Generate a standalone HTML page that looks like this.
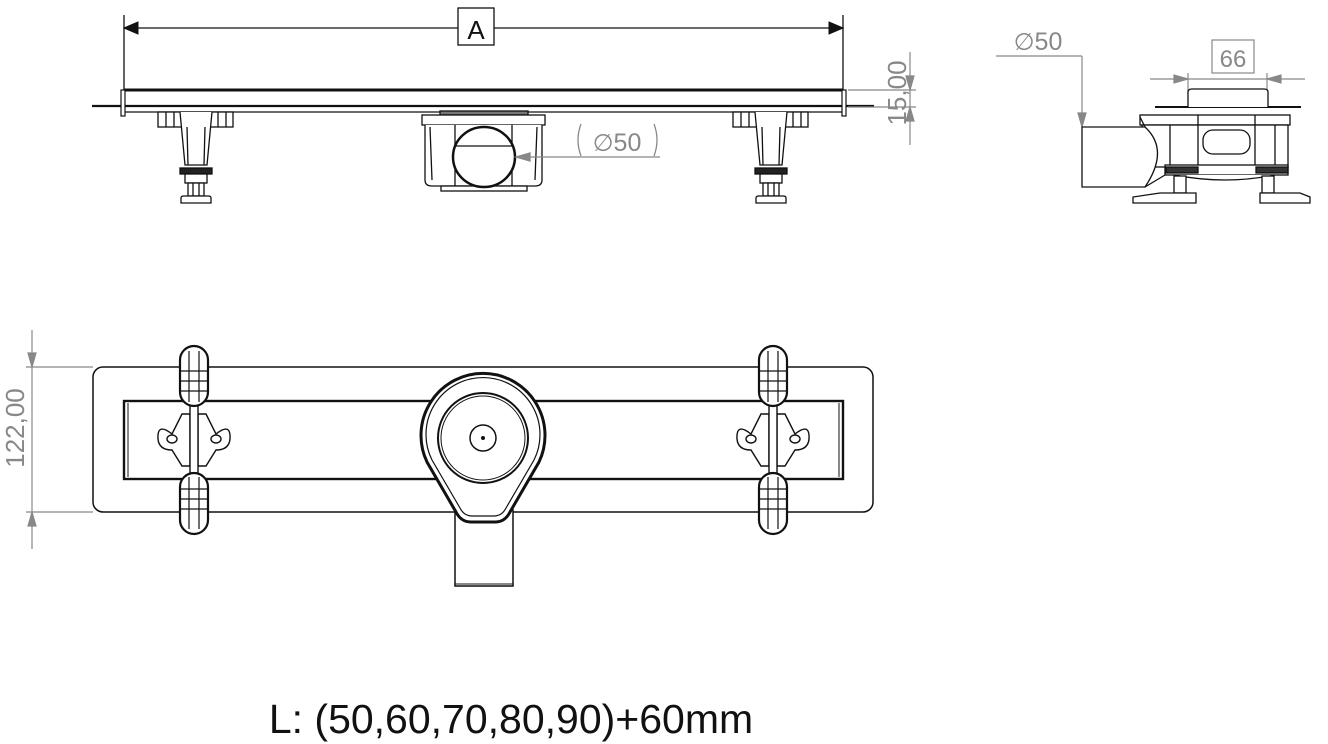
<!DOCTYPE html>
<html><head><meta charset="utf-8"><style>
html,body{margin:0;padding:0;background:#fff}
svg{display:block}
text{font-family:"Liberation Sans",sans-serif}
</style></head><body>
<svg width="1328" height="744" viewBox="0 0 1328 744" xmlns="http://www.w3.org/2000/svg">
<defs>
<g id="leg" fill="#fff" stroke="#111" stroke-width="1.3">
  <rect x="-38" y="112" width="75" height="15"/>
  <line x1="-30" y1="112" x2="-30" y2="127"/><line x1="-22" y1="112" x2="-22" y2="127"/>
  <line x1="22" y1="112" x2="22" y2="127"/><line x1="30" y1="112" x2="30" y2="127"/>
  <rect x="-14" y="115" width="28" height="12"/>
  <line x1="0" y1="117" x2="0" y2="127"/>
  <path d="M-16 112 L-11 165 L11 165 L16 112"/>
  <path d="M-9 127 L-8 165 M9 127 L8 165"/>
  <rect x="-16" y="168" width="32" height="6" fill="#222"/>
  <rect x="-11" y="174" width="22" height="9"/>
  <rect x="-8" y="183" width="16" height="13"/>
  <line x1="-3" y1="183" x2="-3" y2="196"/><line x1="3" y1="183" x2="3" y2="196"/>
  <path d="M-15 203 L-15 198 Q-15 196 -12 196 L12 196 Q15 196 15 198 L15 203 Z"/>
</g>
<g id="clip" fill="#fff" stroke="#111" stroke-width="1.4">
  <path d="M-22 -2 Q-37 -14 -36 3 Q-35 14 -22 14 L-12 30 L-4 30 L-4 -22 L-12 -22 Z" transform="translate(0,-3)"/>
  <path d="M22 -2 Q37 -14 36 3 Q35 14 22 14 L12 30 L4 30 L4 -22 L12 -22 Z" transform="translate(0,-3)"/>
  <ellipse cx="-22" cy="0" rx="5" ry="4"/><ellipse cx="22" cy="0" rx="5" ry="4"/>
  <rect x="-4" y="-35" width="8" height="70"/>
  <rect x="-14" y="-93" width="28" height="60" rx="14" stroke-width="2.2"/>
  <rect x="-14" y="34" width="28" height="61" rx="14" stroke-width="2.2"/>
  <g stroke-width="1.2">
  <line x1="-5" y1="-88" x2="-5" y2="-37"/><line x1="5" y1="-88" x2="5" y2="-37"/>
  <line x1="-13" y1="-68" x2="13" y2="-68"/><line x1="-13" y1="-58" x2="13" y2="-58"/><line x1="-13" y1="-48" x2="13" y2="-48"/>
  <line x1="-5" y1="38" x2="-5" y2="90"/><line x1="5" y1="38" x2="5" y2="90"/>
  <line x1="-13" y1="50" x2="13" y2="50"/><line x1="-13" y1="60" x2="13" y2="60"/><line x1="-13" y1="70" x2="13" y2="70"/>
  </g>
</g>
</defs>

<!-- TOP FRONT VIEW -->
<g stroke="#111" fill="none">
  <line x1="124" y1="15" x2="124" y2="116" stroke-width="1.3"/>
  <line x1="843" y1="15" x2="843" y2="116" stroke-width="1.3"/>
  <line x1="124" y1="28" x2="843" y2="28" stroke-width="1.3"/>
  <polygon points="124,28 138,22 138,34" fill="#111"/>
  <polygon points="843,28 829,22 829,34" fill="#111"/>
  <rect x="458" y="8" width="36" height="37" fill="#fff" stroke-width="1.3"/>
  <line x1="124" y1="90" x2="843" y2="90" stroke-width="3"/>
  <line x1="92" y1="106" x2="874" y2="106" stroke-width="2.2"/>
  <line x1="124" y1="112" x2="843" y2="112" stroke-width="1.3"/>
  <rect x="121" y="90" width="4" height="26" fill="#fff" stroke-width="1.2"/>
  <rect x="842" y="90" width="4" height="26" fill="#fff" stroke-width="1.2"/>
</g>
<text x="476" y="39" font-size="26" text-anchor="middle" fill="#111">A</text>
<use href="#leg" x="196"/>
<use href="#leg" x="771"/>
<!-- drain box -->
<g stroke="#111" fill="#fff" stroke-width="1.3">
  <rect x="440" y="111" width="88" height="4" fill="#777"/>
  <rect x="422" y="115" width="123" height="10"/>
  <path d="M425 125 L425 180 Q425 186 432 186 L535 186 Q542 186 542 180 L542 125"/>
  <line x1="430" y1="127" x2="432" y2="180"/><line x1="537" y1="127" x2="535" y2="180"/>
  <line x1="455" y1="125" x2="455" y2="186"/><line x1="512" y1="125" x2="512" y2="186"/>
  <rect x="441" y="186" width="86" height="5"/>
  <ellipse cx="484" cy="157" rx="31" ry="30" stroke-width="2.5"/>
  <line x1="455" y1="146" x2="512" y2="146"/>
</g>
<g stroke="#888" fill="none" stroke-width="1.3">
  <line x1="516" y1="157" x2="660" y2="157"/>
  <polygon points="516,157 530,153 530,161" fill="#888"/>
  <path d="M581 124 Q575 140 581 156"/><path d="M654 124 Q660 140 654 156"/>
</g>
<text x="617" y="151" font-size="25" text-anchor="middle" fill="#888"><tspan font-family="DejaVu Sans" font-size="24">∅</tspan>50</text>
<!-- 15,00 -->
<g stroke="#888" fill="none" stroke-width="1.2">
  <line x1="848" y1="90" x2="916" y2="90"/>
  <line x1="848" y1="107" x2="916" y2="107"/>
  <line x1="910" y1="52" x2="910" y2="145"/>
  <polygon points="910,90 906,76 914,76" fill="#888"/>
  <polygon points="910,107 906,121 914,121" fill="#888"/>
</g>
<text transform="translate(906,93) rotate(-90)" font-size="26" text-anchor="middle" fill="#888">15,00</text>

<!-- SIDE VIEW -->
<g stroke="#888" fill="none" stroke-width="1.2">
  <line x1="996" y1="56" x2="1082" y2="56"/>
  <line x1="1082" y1="56" x2="1082" y2="127"/>
  <polygon points="1082,127 1078,113 1086,113" fill="#888"/>
  <rect x="1212" y="40" width="42" height="33"/>
  <line x1="1150" y1="79" x2="1305" y2="79"/>
  <line x1="1188" y1="73" x2="1188" y2="92"/><line x1="1267" y1="73" x2="1267" y2="92"/>
  <polygon points="1188,79 1174,75 1174,83" fill="#888"/>
  <polygon points="1267,79 1281,75 1281,83" fill="#888"/>
</g>
<text x="1038" y="50" font-size="25" text-anchor="middle" fill="#888"><tspan font-family="DejaVu Sans" font-size="24">∅</tspan>50</text>
<text x="1233" y="67" font-size="24" text-anchor="middle" fill="#888">66</text>
<g stroke="#111" fill="#fff" stroke-width="1.3">
  <line x1="1155" y1="107" x2="1301" y2="107" stroke-width="2"/>
  <path d="M1188 107 L1188 92 Q1188 89 1192 89 L1264 89 Q1268 89 1268 92 L1268 107"/>
  <rect x="1140" y="115" width="150" height="10"/>
  <rect x="1142" y="125" width="146" height="42"/>
  <line x1="1170" y1="125" x2="1170" y2="167"/><line x1="1198" y1="115" x2="1198" y2="175"/>
  <line x1="1255" y1="115" x2="1255" y2="175"/><line x1="1275" y1="125" x2="1275" y2="167"/>
  <rect x="1203" y="130" width="47" height="24" rx="10"/>
  <rect x="1165" y="165" width="123" height="10"/>
  <rect x="1166" y="167" width="32" height="6" fill="#333"/>
  <rect x="1256" y="167" width="32" height="6" fill="#333"/>
  <path d="M1175 175 Q1225 185 1275 175"/>
  <path d="M1082 127 L1145 127 Q1170 150 1145 187 L1082 187 Z"/>
  <path d="M1145 127 L1140 117 M1145 187 L1165 175"/>
  <rect x="1174" y="176" width="12" height="17"/><rect x="1262" y="176" width="12" height="17"/>
  <path d="M1133 203 L1133 197 L1160 193 L1196 193 L1196 203 Z"/>
  <path d="M1260 203 L1260 193 L1300 193 L1310 197 L1310 203 Z"/>
</g>

<!-- PLAN VIEW -->
<g stroke="#888" fill="none" stroke-width="1.2">
  <line x1="26" y1="367" x2="93" y2="367"/>
  <line x1="26" y1="512" x2="93" y2="512"/>
  <line x1="32" y1="330" x2="32" y2="549"/>
  <polygon points="32,367 28,353 36,353" fill="#888"/>
  <polygon points="32,512 28,526 36,526" fill="#888"/>
</g>
<text transform="translate(24,428) rotate(-90)" font-size="26" text-anchor="middle" fill="#888">122,00</text>
<g stroke="#111" fill="none">
  <rect x="93" y="367" width="780" height="145" rx="10" stroke-width="1.5"/>
  <rect x="124" y="401" width="719" height="78" stroke-width="2.4"/>
  <line x1="128" y1="403" x2="128" y2="477" stroke-width="1"/>
  <line x1="839" y1="403" x2="839" y2="477" stroke-width="1"/>
</g>
<use href="#clip" x="194" y="439"/>
<use href="#clip" x="773" y="439"/>
<g stroke="#111" fill="#fff">
  <rect x="455" y="510" width="58" height="76" stroke-width="1.5"/>
  <line x1="455" y1="584" x2="513" y2="584" stroke-width="1"/>
  <path d="M427 462 A62 62 0 1 1 539 462 L510 512 Q505 522 495 522 L471 522 Q461 522 456 512 Z" stroke-width="3"/>
  <path d="M432 460 A57 57 0 1 1 534 460 L506 508 Q502 516 494 516 L472 516 Q464 516 460 508 Z" stroke-width="1.2"/>
  <circle cx="483" cy="438" r="45" stroke-width="2"/>
  <circle cx="483" cy="438" r="42" stroke-width="1"/>
  <circle cx="483" cy="438" r="13" stroke-width="1.5"/>
  <circle cx="483" cy="438" r="1.5" fill="#111"/>
</g>
<text x="511" y="733" font-size="41" text-anchor="middle" fill="#111">L: (50,60,70,80,90)+60mm</text>
</svg>
</body></html>
